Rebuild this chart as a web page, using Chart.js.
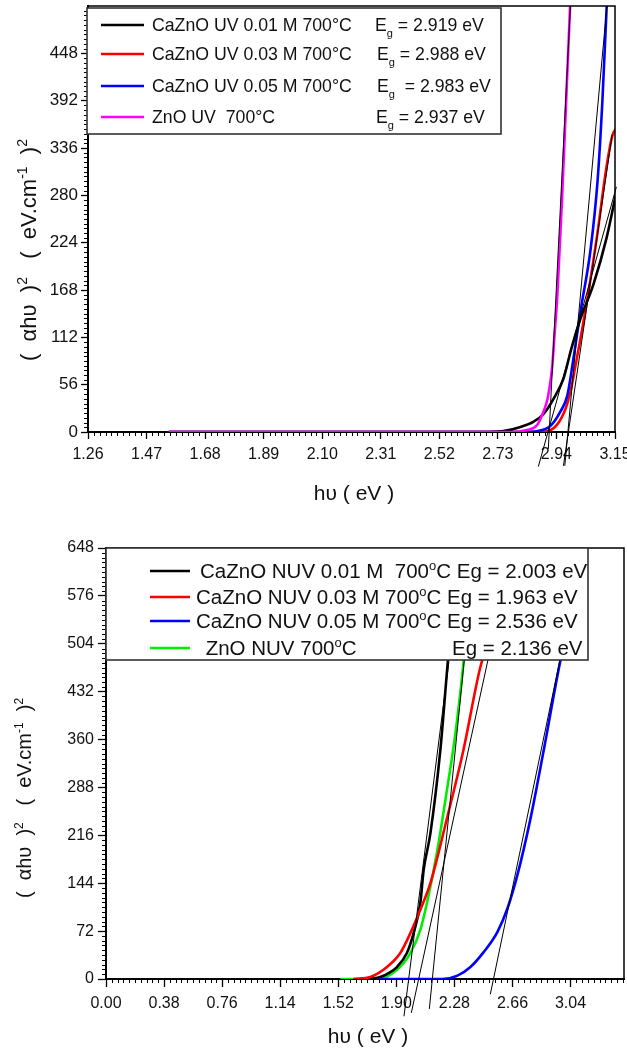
<!DOCTYPE html>
<html><head><meta charset="utf-8">
<script src="https://cdn.jsdelivr.net/npm/chart.js@4.4.0/dist/chart.umd.min.js"></script>
<style>
html,body{margin:0;padding:0;background:#fff;}
#wrap{position:relative;width:627px;height:1052px;overflow:hidden;}
canvas{position:absolute;left:0;}
</style></head><body>
<div id="wrap">
<canvas id="c1" width="627" height="510" style="top:0;width:627px;height:510px"></canvas>
<canvas id="c2" width="627" height="542" style="top:510px;width:627px;height:542px"></canvas>
</div>
<script>
// ---------------- DATA: top chart (UV) ----------------
const uvNames = ['CaZnO UV 0.01 M 700°C', 'CaZnO UV 0.03 M 700°C', 'CaZnO UV 0.05 M 700°C', 'ZnO UV  700°C'];
const uvEg = ['2.919', '2.988', '2.983', '2.937'];
const uvXTicks = [1.26, 1.47, 1.68, 1.89, 2.10, 2.31, 2.52, 2.73, 2.94, 3.15];
const uvYTicks = [0, 56, 112, 168, 224, 280, 336, 392, 448];

const uv001X = [1.55, 2.70, 2.75, 2.811, 2.857, 2.893, 2.929, 2.965, 2.993, 3.026, 3.073, 3.12, 3.155];
const uv001Y = [0, 0, 1, 6, 12, 21, 39, 63, 98, 134, 175, 230, 284];
const uv003X = [1.55, 2.86, 2.908, 2.943, 2.972, 2.99, 3.008, 3.026, 3.05, 3.087, 3.116, 3.14, 3.155];
const uv003Y = [0, 0, 1, 9, 27, 47, 78, 110, 156, 235, 306, 350, 360];
const uv005X = [1.55, 2.82, 2.87, 2.918, 2.954, 2.979, 2.997, 3.015, 3.03, 3.062, 3.087, 3.105, 3.121];
const uv005Y = [0, 0, 1, 7, 24, 43, 78, 118, 150, 215, 295, 393, 510];
const uvZnoX = [1.55, 2.78, 2.83, 2.87, 2.89, 2.908, 2.918, 2.925, 2.932, 2.943, 2.96, 2.975, 2.99];
const uvZnoY = [0, 0, 2, 8, 21, 39, 59, 78, 110, 160, 275, 393, 512];
// tangent (extrapolation) lines: [x1, x2], [y1, y2]
const uvTan001X = [2.875, 3.155], uvTan001Y = [-41, 290];
const uvTan003X = [2.965, 3.14],  uvTan003Y = [-40, 352];
const uvTan005X = [2.97, 3.121],  uvTan005Y = [-40, 504];
const uvTanZnoX = [2.911, 2.99],  uvTanZnoY = [-20, 504];

// ---------------- DATA: bottom chart (NUV) ----------------
const nuvNames = ['CaZnO NUV 0.01 M  700°C', 'CaZnO NUV 0.03 M 700°C', 'CaZnO NUV 0.05 M 700°C', ' ZnO NUV 700°C'];
const nuvEg = ['2.003', '1.963', '2.536', '2.136'];
const nuvXTicks = [0.00, 0.38, 0.76, 1.14, 1.52, 1.90, 2.28, 2.66, 3.04];
const nuvYTicks = [0, 72, 144, 216, 288, 360, 432, 504, 576, 648];

const nuv001X = [1.68, 1.75, 1.795, 1.85, 1.904, 1.969, 2.013, 2.057, 2.079, 2.123, 2.188, 2.234, 2.27, 2.31];
const nuv001Y = [0, 1, 3, 9, 18, 39, 69, 114, 164, 219, 344, 469, 560, 648];
const nuv003X = [1.62, 1.73, 1.839, 1.926, 1.992, 2.057, 2.123, 2.234, 2.339, 2.45, 2.55, 2.65, 2.732];
const nuv003Y = [0, 3, 18, 39, 69, 104, 144, 244, 344, 469, 540, 600, 648];
const nuv005X = [1.79, 2.20, 2.30, 2.385, 2.47, 2.562, 2.627, 2.693, 2.777, 2.863, 2.974, 3.06, 3.15];
const nuv005Y = [0, 0, 5, 18, 40, 71, 106, 157, 240, 342, 479, 565, 648];
const nuvZnoX = [1.533, 1.65, 1.795, 1.904, 1.992, 2.057, 2.10, 2.169, 2.221, 2.287, 2.339, 2.37, 2.404];
const nuvZnoY = [0, 0, 1, 14, 39, 74, 114, 194, 269, 370, 475, 560, 648];
const nuvTan001X = [1.95, 2.244],  nuvTan001Y = [-56, 477];
const nuvTan003X = [1.998, 2.50],  nuvTan003Y = [-51, 480];
const nuvTan005X = [2.515, 2.98],  nuvTan005Y = [-23, 490];
const nuvTanZnoX = [2.116, 2.345], nuvTanZnoY = [-45, 480];

// ---------------- helpers ----------------
const FONT = "'Liberation Sans', Arial, sans-serif";
const pts = (xs, ys) => xs.map((x, i) => ({x: x, y: ys[i]}));
function curve(label, xs, ys, color, order){
  return {label, data: pts(xs, ys), borderColor: color, backgroundColor: color, borderWidth: 2.6,
          showLine: true, pointRadius: 0, cubicInterpolationMode: 'monotone', fill: false, order};
}
function tangent(xs, ys){
  return {label: '', data: pts(xs, ys), borderColor: '#000', borderWidth: 1, showLine: true,
          pointRadius: 0, fill: false, clip: false, order: 0};
}
function richSegs(str){
  const parts = str.split('°'); const out = [];
  parts.forEach((p, i) => { out.push([p, 'n']); if (i < parts.length - 1) out.push(['o', 'sup']); });
  return out;
}
function drawRich(ctx, segs, x, y, size, align){
  const fs = t => t === 'n' ? size : Math.round(size * 0.62);
  let w = 0;
  segs.forEach(([s, t]) => { ctx.font = fs(t) + 'px ' + FONT; w += ctx.measureText(s).width; });
  let cx = align === 'center' ? x - w / 2 : (align === 'right' ? x - w : x);
  ctx.textAlign = 'left'; ctx.textBaseline = 'alphabetic';
  segs.forEach(([s, t]) => {
    ctx.font = fs(t) + 'px ' + FONT;
    const dy = t === 'sup' ? -size * 0.40 : (t === 'sub' ? size * 0.30 : 0);
    ctx.fillText(s, cx, y + dy);
    cx += ctx.measureText(s).width;
  });
  return w;
}

const minorTicks = {
  id: 'minorTicks',
  afterDraw(chart, args, opts){
    const ctx = chart.ctx; const a = chart.chartArea;
    ctx.save(); ctx.strokeStyle = '#000'; ctx.lineWidth = 1;
    ['x', 'y'].forEach(id => {
      const s = chart.scales[id]; const n = opts[id] || 10;
      const vals = s.ticks.map(t => t.value);
      const step = (vals[1] - vals[0]) / n;
      const len = opts.len || 4;
      const draw = v => {
        if (v < s.min - 1e-9 || v > s.max + 1e-9) return;
        const p = Math.round(s.getPixelForValue(v)) + 0.5;
        ctx.beginPath();
        if (id === 'x'){ ctx.moveTo(p, a.bottom); ctx.lineTo(p, a.bottom + len); }
        else { ctx.moveTo(a.left - len, p); ctx.lineTo(a.left, p); }
        ctx.stroke();
      };
      for (let k = 1; vals[0] - k * step >= s.min - 1e-9; k++) draw(vals[0] - k * step);
      for (let k = 1; vals[0] + k * step <= s.max + 1e-9; k++){
        if (k % n !== 0) draw(vals[0] + k * step);
      }
    });
    ctx.restore();
  }
};

const decor = {
  id: 'decor',
  afterDraw(chart, args, o){
    const ctx = chart.ctx; const a = chart.chartArea;
    ctx.save();
    ctx.strokeStyle = '#000'; ctx.lineWidth = 1.5;
    ctx.beginPath(); ctx.moveTo(a.left, a.top); ctx.lineTo(a.right, a.top); ctx.lineTo(a.right, a.bottom); ctx.stroke();
    const L = o.legend;
    ctx.fillStyle = '#fff'; ctx.fillRect(L.box[0], L.box[1], L.box[2], L.box[3]);
    ctx.strokeStyle = '#333'; ctx.lineWidth = 1.6;
    ctx.strokeRect(L.box[0], L.box[1], L.box[2], L.box[3]);
    L.rows.forEach(r => {
      ctx.strokeStyle = r.color; ctx.lineWidth = 2.6;
      ctx.beginPath(); ctx.moveTo(r.x1, r.y); ctx.lineTo(r.x2, r.y); ctx.stroke();
      ctx.fillStyle = '#111';
      r.items.forEach(it => drawRich(ctx, it.segs, it.x, r.y + L.size * 0.36, L.size, 'left'));
    });
    ctx.fillStyle = '#111';
    drawRich(ctx, o.xTitle.segs, o.xTitle.x, o.xTitle.y + o.xTitle.size * 0.36, o.xTitle.size, 'center');
    ctx.save();
    ctx.translate(o.yTitle.x, o.yTitle.y); ctx.rotate(-Math.PI / 2);
    drawRich(ctx, o.yTitle.segs, 0, o.yTitle.size * 0.36, o.yTitle.size, 'center');
    ctx.restore();
    ctx.restore();
  }
};

const yTitleSegs = [['(  αhυ  )', 'n'], ['2', 'sup'], ['   (  eV.cm', 'n'], ['-1', 'sup'], ['  )', 'n'], ['2', 'sup']];
const xTitleSegs = [['hυ ( eV )', 'n']];

function axisX(min, max, ticks, height, tickLen, pad){
  return {
    type: 'linear', min, max,
    afterBuildTicks: s => { s.ticks = ticks.map(v => ({value: v})); },
    afterFit: s => { s.height = height; s.paddingLeft = 0; s.paddingRight = 0; },
    ticks: {callback: v => Number(v).toFixed(2), font: {family: FONT, size: 16}, color: '#111', padding: pad, maxRotation: 0, autoSkip: false},
    grid: {drawOnChartArea: false, tickLength: tickLen, color: '#000', tickWidth: 1.3},
    border: {color: '#000', width: 2}
  };
}
function axisY(min, max, ticks, width, tickLen, pad, fsize){
  return {
    type: 'linear', min, max,
    afterBuildTicks: s => { s.ticks = ticks.map(v => ({value: v})); },
    afterFit: s => { s.width = width; s.paddingTop = 0; s.paddingBottom = 0; },
    ticks: {callback: v => String(v), font: {family: FONT, size: fsize}, color: '#111', padding: pad, autoSkip: false},
    grid: {drawOnChartArea: false, tickLength: tickLen, color: '#000', tickWidth: 1.3},
    border: {color: '#000', width: 2}
  };
}

// ---------------- top chart ----------------
const uvColors = ['#000000', '#ff0000', '#0000ff', '#ff00ff'];
const uvEgX = [375, 377, 377, 376];
const uvEqTxt = [' = ', ' = ', '  = ', ' = '];
const uvRowsY = [25, 54, 86, 117];
new Chart(document.getElementById('c1'), {
  type: 'scatter',
  data: {datasets: [
    tangent(uvTan001X, uvTan001Y), tangent(uvTan003X, uvTan003Y),
    tangent(uvTan005X, uvTan005Y), tangent(uvTanZnoX, uvTanZnoY),
    curve(uvNames[3], uvZnoX, uvZnoY, uvColors[3], 1),
    curve(uvNames[0], uv001X, uv001Y, uvColors[0], 2),
    curve(uvNames[2], uv005X, uv005Y, uvColors[2], 3),
    curve(uvNames[1], uv003X, uv003Y, uvColors[1], 4)
  ]},
  options: {
    responsive: false, animation: false, events: [],
    layout: {padding: {left: 0, right: 12, top: 6, bottom: 0}},
    plugins: {
      legend: {display: false}, tooltip: {enabled: false},
      minorTicks: {x: 10, y: 10, len: 4},
      decor: {
        legend: {box: [87, 8, 414, 126], size: 17.7,
          rows: uvNames.map((n, i) => ({color: uvColors[i], x1: 101, x2: 144, y: uvRowsY[i],
            items: [{x: 152, segs: [[n, 'n']]},
                    {x: uvEgX[i], segs: [['E', 'n'], ['g', 'sub'], [uvEqTxt[i] + uvEg[i] + ' eV', 'n']]}]}))},
        xTitle: {x: 354, y: 492, size: 21, segs: xTitleSegs},
        yTitle: {x: 28, y: 250, size: 22, segs: yTitleSegs}
      }
    },
    scales: {
      x: axisX(1.26, 3.15, uvXTicks, 78, 7, 6),
      y: axisY(0, 504, uvYTicks, 88, 7, 3, 17)
    }
  },
  plugins: [minorTicks, decor]
});

// ---------------- bottom chart ----------------
const nuvColors = ['#000000', '#ff0000', '#0000ff', '#00ee00'];
const nuvRowsY = [61, 87, 111, 138];
const nuvTextX = [200, 196, 196, 200];
new Chart(document.getElementById('c2'), {
  type: 'scatter',
  data: {datasets: [
    tangent(nuvTan001X, nuvTan001Y), tangent(nuvTan003X, nuvTan003Y),
    tangent(nuvTan005X, nuvTan005Y), tangent(nuvTanZnoX, nuvTanZnoY),
    curve(nuvNames[2], nuv005X, nuv005Y, nuvColors[2], 1),
    curve(nuvNames[1], nuv003X, nuv003Y, nuvColors[1], 2),
    curve(nuvNames[0], nuv001X, nuv001Y, nuvColors[0], 3),
    curve(nuvNames[3], nuvZnoX, nuvZnoY, nuvColors[3], 4)
  ]},
  options: {
    responsive: false, animation: false, events: [],
    layout: {padding: {left: 0, right: 3, top: 38, bottom: 0}},
    plugins: {
      legend: {display: false}, tooltip: {enabled: false},
      minorTicks: {x: 10, y: 10, len: 4},
      decor: {
        legend: {box: [106, 38, 482, 112], size: 20.5,
          rows: nuvNames.map((n, i) => ({color: nuvColors[i], x1: 150, x2: 190, y: nuvRowsY[i],
            items: i < 3
              ? [{x: nuvTextX[i], segs: richSegs(n + ' Eg = ' + nuvEg[i] + ' eV')}]
              : [{x: nuvTextX[i], segs: richSegs(n)}, {x: 452, segs: [['Eg = ' + nuvEg[i] + ' eV', 'n']]}]}))},
        xTitle: {x: 368, y: 525, size: 21, segs: xTitleSegs},
        yTitle: {x: 24, y: 288, size: 20, segs: yTitleSegs}
      }
    },
    scales: {
      x: axisX(0, 3.39, nuvXTicks, 73, 8, 7),
      y: axisY(0, 648, nuvYTicks, 106, 8, 4, 16)
    }
  },
  plugins: [minorTicks, decor]
});
</script>
</body></html>
